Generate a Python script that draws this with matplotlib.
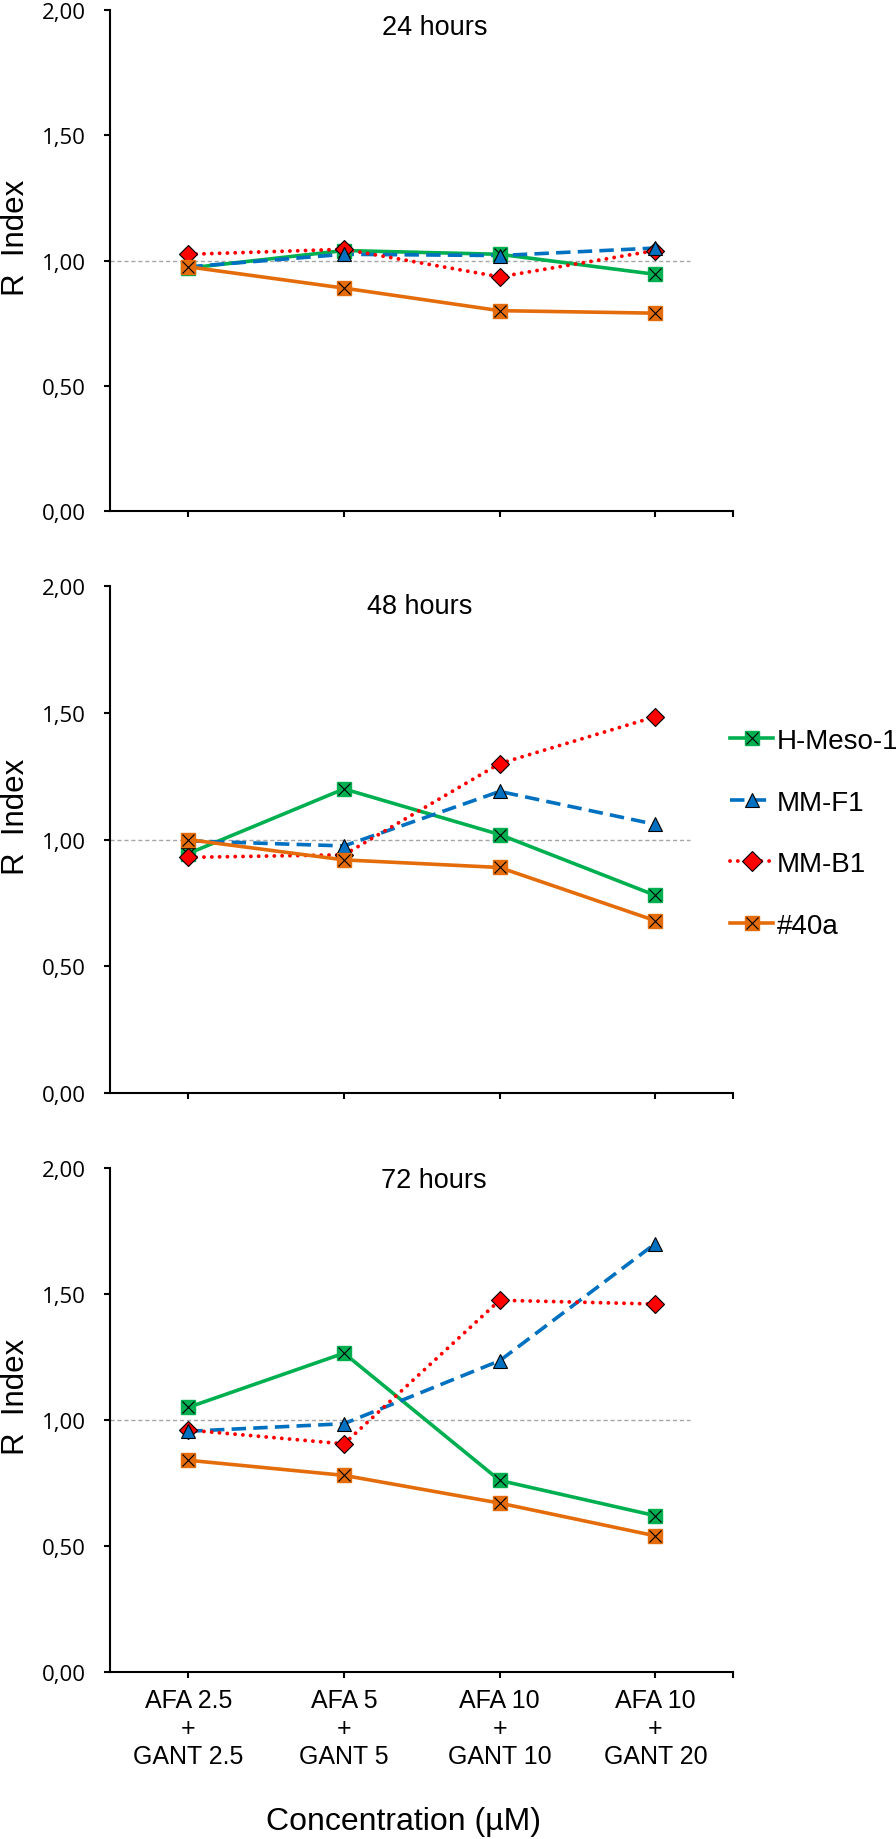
import matplotlib.pyplot as plt
from matplotlib.lines import Line2D
from matplotlib.legend_handler import HandlerTuple
from matplotlib.ticker import FuncFormatter

# categories on the x axis
categories = ["AFA 2.5\n+\nGANT 2.5", "AFA 5\n+\nGANT 5",
              "AFA 10\n+\nGANT 10", "AFA 10\n+\nGANT 20"]
series_names = ["H-Meso-1", "MM-F1", "MM-B1", "#40a"]
panel_titles = ["24 hours", "48 hours", "72 hours"]

# R index values
hmeso_24 = [0.97, 1.04, 1.025, 0.945]
mmf1_24 = [0.975, 1.025, 1.02, 1.05]
mmb1_24 = [1.025, 1.045, 0.935, 1.04]
a40_24 = [0.975, 0.89, 0.80, 0.79]

hmeso_48 = [0.945, 1.20, 1.02, 0.78]
mmf1_48 = [0.995, 0.975, 1.19, 1.06]
mmb1_48 = [0.93, 0.94, 1.30, 1.485]
a40_48 = [1.00, 0.92, 0.89, 0.68]

hmeso_72 = [1.05, 1.265, 0.76, 0.62]
mmf1_72 = [0.955, 0.985, 1.235, 1.70]
mmb1_72 = [0.96, 0.905, 1.475, 1.46]
a40_72 = [0.84, 0.78, 0.67, 0.54]

panels = [
    [hmeso_24, mmf1_24, mmb1_24, a40_24],
    [hmeso_48, mmf1_48, mmb1_48, a40_48],
    [hmeso_72, mmf1_72, mmb1_72, a40_72],
]

green = "#00B050"
blue = "#0070C0"
red = "#FF0000"
orange = "#E46C0A"

x = list(range(len(categories)))

fig = plt.figure(figsize=(8.96, 18.4), dpi=100)

rects = [(0.1233, 0.7217, 0.695, 0.2723),
         (0.1233, 0.4054, 0.695, 0.2755),
         (0.1233, 0.0908, 0.695, 0.2739)]
title_pos = [(0.521, 0.966), (0.497, 0.960), (0.519, 0.976)]

fmt = FuncFormatter(lambda v, p: f"{v:.2f}".replace(".", ","))

LW = 2.6
MS = 9.5

for i, (rect, data) in enumerate(zip(rects, panels)):
    hmeso, mmf1, mmb1, a40 = data
    ax = fig.add_axes(rect)
    ax.axhline(1.0, xmin=0, xmax=0.93, color="#A6A6A6", lw=1, ls=(0, (3, 2)), zorder=1)

    # lines
    ax.plot(x, hmeso, color=green, lw=LW, zorder=2)
    ax.plot(x, mmf1, color=blue, lw=LW, ls=(0, (4, 2)), zorder=2)
    ax.plot(x, mmb1, color=red, lw=2.8, ls=(0, (0.01, 2.0)), dash_capstyle="round", zorder=2)
    ax.plot(x, a40, color=orange, lw=LW, zorder=2)

    # markers
    ax.plot(x, hmeso, ls="none", marker="s", ms=MS, mfc=green, mec=green, zorder=3)
    ax.plot(x, hmeso, ls="none", marker="x", ms=MS - 1.5, mec="black", mew=0.8, zorder=3.1)
    ax.plot(x, mmb1, ls="none", marker="D", ms=9.5, mfc=red, mec="black", mew=0.8, zorder=4)
    ax.plot(x, mmf1, ls="none", marker="^", ms=10, mfc=blue, mec="black", mew=0.8, zorder=5)
    ax.plot(x, a40, ls="none", marker="s", ms=MS, mfc=orange, mec=orange, zorder=6)
    ax.plot(x, a40, ls="none", marker="x", ms=MS - 1.5, mec="black", mew=0.8, zorder=6.1)

    ax.set_xlim(-0.5, 3.5)
    ax.set_ylim(0, 2.0)
    ax.set_yticks([0, 0.5, 1.0, 1.5, 2.0])
    ax.yaxis.set_major_formatter(fmt)
    ax.set_xticks(x)
    ax.set_xticks([3.5], minor=True)
    if i == 2:
        ax.set_xticklabels(categories, fontsize=18, family="Liberation Sans", linespacing=1.2)
    else:
        ax.set_xticklabels([])

    for s in ["top", "right"]:
        ax.spines[s].set_visible(False)
    for s in ["left", "bottom"]:
        ax.spines[s].set_linewidth(1.5)
    ax.tick_params(axis="both", which="both", direction="out", length=4.5, width=1.5)
    ax.tick_params(axis="y", pad=13, labelsize=16)
    ax.tick_params(axis="x", pad=7)
    for lab in ax.get_yticklabels():
        lab.set_family("Open Sans")

    ax.set_ylabel("R  Index", fontsize=22.5, family="Liberation Sans")
    ax.yaxis.set_label_coords(-0.128, 0.547)
    ax.text(title_pos[i][0], title_pos[i][1], panel_titles[i], transform=ax.transAxes,
            ha="center", va="center", fontsize=19.5, family="Liberation Sans")

fig.text(403 / 896, 1 - 1830 / 1840, "Concentration (µM)", ha="center", va="baseline",
         fontsize=23, family="Liberation Sans")

# legend handles
h1 = (Line2D([], [], color=green, lw=LW),
      Line2D([], [], ls="none", marker="s", ms=MS, mfc=green, mec=green),
      Line2D([], [], ls="none", marker="x", ms=MS - 1.5, mec="black", mew=0.8))
h2 = (Line2D([], [], color=blue, lw=LW, ls=(0, (4, 2))),
      Line2D([], [], ls="none", marker="^", ms=10, mfc=blue, mec="black", mew=0.8))
h3 = (Line2D([], [], color=red, lw=2.8, ls=(0, (0.01, 2.0)), dash_capstyle="round"),
      Line2D([], [], ls="none", marker="D", ms=10.5, mfc=red, mec="black", mew=0.8))
h4 = (Line2D([], [], color=orange, lw=LW),
      Line2D([], [], ls="none", marker="s", ms=MS, mfc=orange, mec=orange),
      Line2D([], [], ls="none", marker="x", ms=MS - 1.5, mec="black", mew=0.8))

fig.legend([h1, h2, h3, h4], series_names, handler_map={tuple: HandlerTuple(ndivide=1)},
           loc="upper left", bbox_to_anchor=(730 / 896, 1 - 729 / 1840),
           frameon=False, borderpad=0, borderaxespad=0, handlelength=1.55,
           handletextpad=0.15, labelspacing=1.28,
           prop={"family": "Liberation Sans", "size": 20})

fig.savefig("out.png", dpi=100)
